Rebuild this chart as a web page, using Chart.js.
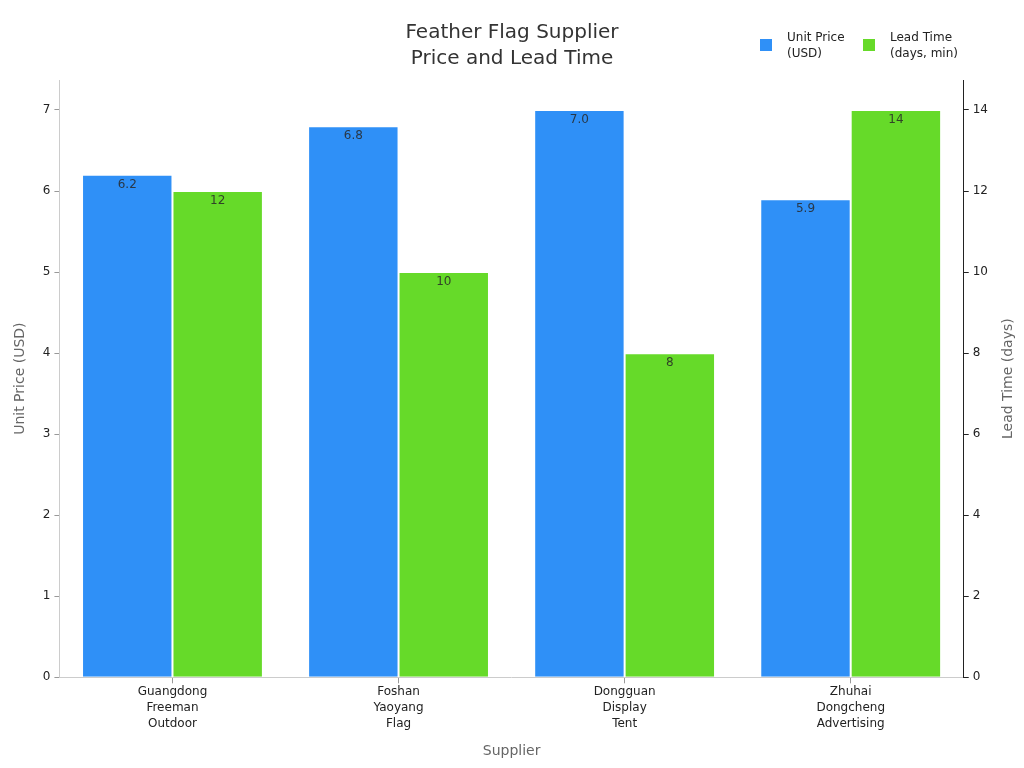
<!DOCTYPE html>
<html>
<head>
<meta charset="utf-8">
<script src="https://cdn.jsdelivr.net/npm/chart.js@4.4.1/dist/chart.umd.min.js"></script>
<style>
  html, body { margin: 0; padding: 0; background: #fff; }
</style>
</head>
<body>
<canvas id="grafico" width="1024" height="768"></canvas>
<script>
const suppliers = [
  ["Guangdong", "Freeman", "Outdoor"],
  ["Foshan", "Yaoyang", "Flag"],
  ["Dongguan", "Display", "Tent"],
  ["Zhuhai", "Dongcheng", "Advertising"],
];
const unitPrice = [6.2, 6.8, 7.0, 5.9];
const leadTime = [12, 10, 8, 14];
const titleLines = ["Feather Flag Supplier", "Price and Lead Time"];
const legendPrice = ["Unit Price", "(USD)"];
const legendLead = ["Lead Time", "(days, min)"];
const rightTitle = "Lead Time (days)";

const FONT = "'DejaVu Sans', sans-serif";

// rotulos dentro do topo das barras
const barLabels = {
  id: "barLabels",
  afterDatasetsDraw(chart) {
    const ctx = chart.ctx;
    ctx.save();
    ctx.font = "12px " + FONT;
    ctx.fillStyle = "rgba(40,40,40,0.85)";
    ctx.textAlign = "center";
    ctx.textBaseline = "middle";
    chart.data.datasets.forEach((ds, i) => {
      chart.getDatasetMeta(i).data.forEach((bar, j) => {
        const txt = i === 0 ? ds.data[j].toFixed(1) : String(ds.data[j]);
        ctx.fillText(txt, bar.x, bar.y + 10);
      });
    });
    ctx.restore();
  },
};

// titulo, legenda manual com duas linhas e titulo do eixo direito
const extras = {
  id: "extras",
  afterDraw(chart) {
    const ctx = chart.ctx;
    ctx.save();
    ctx.textBaseline = "middle";
    ctx.textAlign = "center";
    ctx.font = "20px " + FONT;
    ctx.fillStyle = "#333";
    titleLines.forEach((l, k) => ctx.fillText(l, 512, 33 + k * 26));

    const items = [
      { x: 760, color: chart.data.datasets[0].backgroundColor, lines: legendPrice },
      { x: 863, color: chart.data.datasets[1].backgroundColor, lines: legendLead },
    ];
    ctx.font = "12px " + FONT;
    ctx.textAlign = "left";
    items.forEach((it) => {
      ctx.fillStyle = it.color;
      ctx.fillRect(it.x, 39, 12, 12);
      ctx.fillStyle = "#222";
      it.lines.forEach((l, k) => ctx.fillText(l, it.x + 27, 38 + k * 16));
    });

    const area = chart.chartArea;
    ctx.translate(1008, (area.top + area.bottom) / 2);
    ctx.rotate(-Math.PI / 2);
    ctx.textAlign = "center";
    ctx.font = "14px " + FONT;
    ctx.fillStyle = "#666";
    ctx.fillText(rightTitle, 0, 0);
    ctx.restore();
  },
};

function soInteiros(scale) {
  scale.ticks = scale.ticks.filter((t) => Number.isInteger(t.value));
}

const ctx = document.getElementById("grafico").getContext("2d");
let myChart = new Chart(ctx, {
  type: "bar",
  data: {
    labels: suppliers,
    datasets: [
      {
        label: "Unit Price (USD)",
        data: unitPrice,
        yAxisID: "y",
        backgroundColor: "#2F90F7",
        borderColor: "rgba(255,255,255,0.5)",
        borderWidth: 1,
      },
      {
        label: "Lead Time (days, min)",
        data: leadTime,
        yAxisID: "y1",
        backgroundColor: "#66DA29",
        borderColor: "rgba(255,255,255,0.5)",
        borderWidth: 1,
      },
    ],
  },
  options: {
    responsive: false,
    animation: false,
    layout: { padding: { top: 80, left: 8, right: 32, bottom: 4 } },
    datasets: { bar: { categoryPercentage: 0.8, barPercentage: 1.0 } },
    plugins: {
      legend: { display: false },
      tooltip: { enabled: false },
      title: { display: false },
    },
    scales: {
      x: {
        grid: { drawOnChartArea: false, offset: false, tickLength: 6, color: "#999" },
        border: { color: "#ccc" },
        ticks: { color: "#222", font: { family: FONT, size: 12, lineHeight: 1.33 }, padding: 1 },
        title: {
          display: true,
          text: "Supplier",
          color: "#666",
          font: { family: FONT, size: 14 },
          padding: { top: 10 },
        },
      },
      y: {
        position: "left",
        min: 0,
        max: 7.37,
        ticks: { stepSize: 1, color: "#222", font: { family: FONT, size: 12 }, padding: 4 },
        afterBuildTicks: soInteiros,
        grid: { drawOnChartArea: false, tickLength: 5, color: "#999" },
        border: { color: "#ccc" },
        title: {
          display: true,
          text: "Unit Price (USD)",
          color: "#666",
          font: { family: FONT, size: 14 },
          padding: { bottom: 10 },
        },
      },
      y1: {
        position: "right",
        min: 0,
        max: 14.74,
        ticks: { stepSize: 2, color: "#222", font: { family: FONT, size: 12 }, padding: 4 },
        afterBuildTicks: soInteiros,
        grid: { drawOnChartArea: false, tickLength: 5, color: "#222" },
        border: { color: "#222" },
      },
    },
  },
  plugins: [barLabels, extras],
});
</script>
</body>
</html>
